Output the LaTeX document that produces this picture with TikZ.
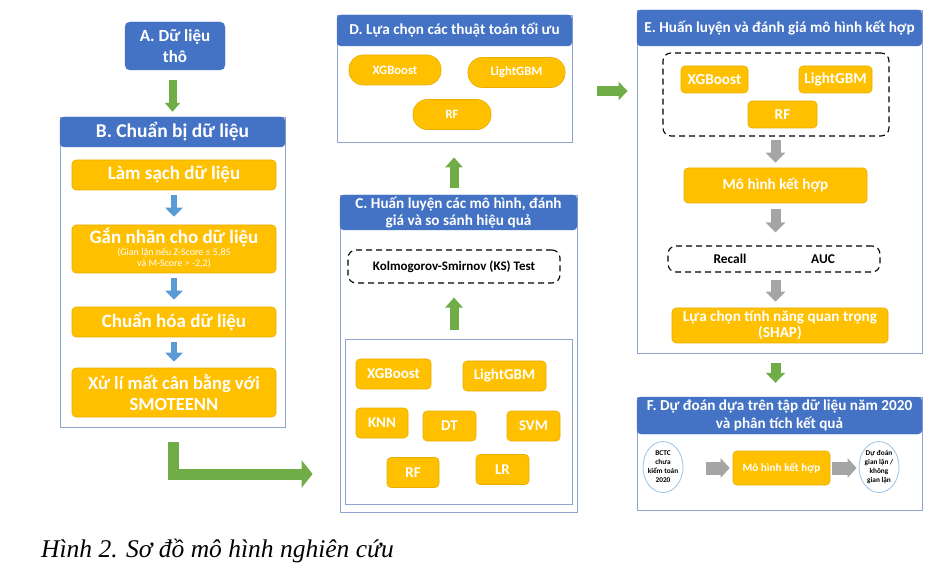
\documentclass[tikz,border=0pt]{standalone}
\usepackage{fontspec}
\setmainfont{Carlito}
\newfontfamily\captionfont{Liberation Serif}
\usetikzlibrary{arrows.meta,shapes.geometric,positioning}

\definecolor{headblue}{HTML}{4472C4}
\definecolor{boxorange}{HTML}{FFC000}
\definecolor{boxedge}{HTML}{E9AE00}
\definecolor{panelline}{HTML}{8FA5CF}
\definecolor{arrowgreen}{HTML}{70AD47}
\definecolor{arrowblue}{HTML}{5B9BD5}
\definecolor{arrowgrey}{HTML}{A5A5A5}
\definecolor{ovalline}{HTML}{9DC3E6}

\newcommand{\fsz}[2]{\fontsize{#1}{#2}\selectfont}

\tikzset{
	panel/.style={draw=panelline, line width=0.8pt, fill=white, rectangle, inner sep=0pt},
	header/.style={fill=headblue, draw=headblue, rounded corners=4pt, text=white, font=\bfseries, align=center, inner sep=0pt},
	orangebox/.style={fill=boxorange, draw=boxedge, line width=0.6pt, rounded corners=4pt, text=white, font=\bfseries, align=center, inner sep=0pt},
	pill/.style={orangebox, rounded corners=14pt},
	dashbox/.style={draw=black, line width=1.1pt, dash pattern=on 6pt off 4pt, rounded corners=8pt, inner sep=0pt},
	oval/.style={ellipse, draw=ovalline, line width=0.8pt, fill=white, inner sep=-2pt, align=center, font=\bfseries\fsz{7.3}{9}},
	fatarrow/.style n args={4}{draw=#1, line width=#2, line join=miter, -{Triangle[width=#3, length=#4]}},
}

\begin{document}
\begin{tikzpicture}[x=1pt, y=-1pt]
	\useasboundingbox (0,0) rectangle (948,569);

	%% A. raw data
	\node[header, rounded corners=5pt, minimum width=100pt, minimum height=48pt, font=\bfseries\fsz{17}{21}] (A) at (175,46) {A. Dữ liệu\\thô};

	%% B. data preparation
	\node[panel, minimum width=225pt, minimum height=310pt] (Bpanel) at (172.5,272) {};
	\node[header, minimum width=225pt, minimum height=30pt, font=\bfseries\fsz{19.5}{22}] (Bhead) at (172.5,132) {B. Chuẩn bị dữ liệu};
	\begin{scope}[every node/.style={orangebox, minimum width=204pt, font=\bfseries\fsz{19}{21}}]
		\node[minimum height=30pt] (B1) at (174,175) {Làm sạch dữ liệu};
		\node[minimum height=48pt] (B2) at (174,249) {Gắn nhãn cho dữ liệu\\[-3pt]
			{\fsz{10}{11.5}\mdseries\begin{tabular}{@{}c@{}}(Gian lận nếu Z-Score ≤ 5,85\\và M-Score > -2,2)\end{tabular}}};
		\node[minimum height=30pt] (B3) at (174,322) {Chuẩn hóa dữ liệu};
		\node[minimum height=49pt, font=\bfseries\fsz{18.5}{21}] (B4) at (174,392.5) {Xử lí mất cân bằng với\\SMOTEENN};
	\end{scope}

	%% C. training and comparison
	\node[panel, minimum width=237pt, minimum height=317pt] (Cpanel) at (458.5,353.5) {};
	\node[header, minimum width=237pt, minimum height=35pt, font=\bfseries\fsz{15.2}{17}] (Chead) at (458.5,212.5) {C. Huấn luyện các mô hình, đánh\\giá và so sánh hiệu quả};
	\node[dashbox, minimum width=212pt, minimum height=33pt, font=\bfseries\fsz{13}{14}] (KS) at (454,266.5) {Kolmogorov-Smirnov (KS) Test};
	\node[panel, minimum width=227pt, minimum height=165pt] (Cinner) at (458.5,421.5) {};
	\begin{scope}[every node/.style={orangebox, minimum height=30pt, font=\bfseries\fsz{15}{17}}]
		\foreach \n/\x/\y/\w/\t in {xgb/393.5/374/75/XGBoost, lgbm/504.5/376/83/LightGBM, knn/382/423/52/KNN,
			dt/449.5/426/53/DT, svm/533.5/426/53/SVM, rf/413/472.5/52/RF, lr/502.5/469.5/53/LR}{%
			\node[minimum width=\w pt] (C-\n) at (\x,\y) {\t};
		}
	\end{scope}

	%% D. choice of the best algorithms
	\node[panel, minimum width=235pt, minimum height=127pt] (Dpanel) at (454.5,78.5) {};
	\node[header, minimum width=235pt, minimum height=31pt, font=\bfseries\fsz{15.2}{17}] (Dhead) at (454.5,30.5) {D. Lựa chọn các thuật toán tối ưu};
	\begin{scope}[every node/.style={pill, minimum height=30pt, font=\bfseries\fsz{12.7}{14}}]
		\node[minimum width=92pt] (D-xgb) at (395,70) {XGBoost};
		\node[minimum width=97pt] (D-lgbm) at (516.5,72.5) {LightGBM};
		\node[minimum width=78pt] (D-rf) at (452,114.5) {RF};
	\end{scope}

	%% E. hybrid model
	\node[panel, minimum width=285pt, minimum height=343pt] (Epanel) at (779.5,181.5) {};
	\node[header, minimum width=285pt, minimum height=36pt, font=\bfseries\fsz{15.2}{17}] (Ehead) at (779.5,28) {E. Huấn luyện và đánh giá mô hình kết hợp};
	\node[dashbox, minimum width=226pt, minimum height=83pt] (Edash) at (776,94.5) {};
	\begin{scope}[every node/.style={orangebox, minimum height=27pt, font=\bfseries\fsz{15.2}{16.5}}]
		\node[minimum width=67pt] (E-xgb) at (714.5,79.5) {XGBoost};
		\node[minimum width=73pt] (E-lgbm) at (835.5,79.5) {LightGBM};
		\node[minimum width=69pt] (E-rf) at (782.5,114.5) {RF};
		\node[minimum width=183pt, minimum height=35pt] (Ecomb) at (775.5,185.5) {Mô hình kết hợp};
		\node[minimum width=216pt, minimum height=35pt] (Eshap) at (780,325.5) {Lựa chọn tính năng quan trọng\\(SHAP)};
	\end{scope}
	\node[dashbox, minimum width=212pt, minimum height=26pt] (Emetric) at (774,259) {};
	\node[font=\bfseries\fsz{13.4}{14}] (recall) at (730,259) {Recall};
	\node[font=\bfseries\fsz{13.4}{14}] (auc) at (823,259) {AUC};

	%% F. prediction on 2020 data
	\node[panel, minimum width=285pt, minimum height=113pt] (Fpanel) at (779.5,453.5) {};
	\node[header, minimum width=285pt, minimum height=37pt, font=\bfseries\fsz{15.2}{17.5}] (Fhead) at (779.5,415.5) {F. Dự đoán dựa trên tập dữ liệu năm 2020\\và phân tích kết quả};
	\node[oval, minimum width=40pt, minimum height=51pt] (Fin) at (663,467) {BCTC\\chưa\\kiểm toán\\2020};
	\node[orangebox, minimum width=97pt, minimum height=34pt, font=\bfseries\fsz{11.2}{13}] (Fcomb) at (781.5,468) {Mô hình kết hợp};
	\node[oval, minimum width=40pt, minimum height=51pt] (Fout) at (879,467) {Dự đoán\\gian lận /\\không\\gian lận};

	%% block arrows
	\coordinate (bend) at (173,474);
	\coordinate (de) at (0,91);
	\draw[fatarrow={arrowgreen}{8pt}{15pt}{9pt}, shorten <=10pt, shorten >=5pt] (A.south -| Bhead) -- (Bhead.north);
	\draw[fatarrow={arrowblue}{6pt}{17pt}{9pt}, shorten <=5pt, shorten >=8pt] (B1) -- (B2);
	\draw[fatarrow={arrowblue}{6pt}{17pt}{9pt}, shorten <=5pt, shorten >=7pt] (B2) -- (B3);
	\draw[fatarrow={arrowblue}{6pt}{17pt}{9pt}, shorten <=5pt, shorten >=6pt] (B3) -- (B4);
	\draw[fatarrow={arrowgreen}{11pt}{27pt}{11pt}, shorten <=15pt, shorten >=27pt] (Bpanel.south -| bend) -- (bend) -- (bend -| Cpanel.west);
	\draw[fatarrow={arrowgreen}{9pt}{17pt}{10pt}, shorten <=9pt, shorten >=14pt] (Cinner.north -| KS) -- (KS.south);
	\draw[fatarrow={arrowgreen}{9pt}{17pt}{10pt}, shorten <=7pt, shorten >=15pt] (Chead.north -| KS) -- (Dpanel.south -| KS);
	\draw[fatarrow={arrowgreen}{10pt}{18pt}{9pt}, shorten <=25pt, shorten >=9pt] (Dpanel.east |- de) -- (Epanel.west |- de);
	\draw[fatarrow={arrowgrey}{10pt}{19pt}{10pt}, shorten <=3pt, shorten >=5pt] (Edash.south -| Ecomb) -- (Ecomb.north);
	\draw[fatarrow={arrowgrey}{10pt}{19pt}{10pt}, shorten <=6pt, shorten >=13pt] (Ecomb.south) -- (Emetric.north -| Ecomb);
	\draw[fatarrow={arrowgrey}{10pt}{19pt}{10pt}, shorten <=7pt, shorten >=6pt] (Emetric.south -| Ecomb) -- (Eshap.north -| Ecomb);
	\draw[fatarrow={arrowgreen}{10pt}{19pt}{10pt}, shorten <=10pt, shorten >=14pt] (Epanel.south -| Ecomb) -- (Fhead.north -| Ecomb);
	\draw[fatarrow={arrowgrey}{13pt}{19pt}{9pt}, shorten <=23pt, shorten >=3pt] (Fin.east |- Fcomb) -- (Fcomb.west);
	\draw[fatarrow={arrowgrey}{13pt}{19pt}{9pt}, shorten <=2pt, shorten >=2pt] (Fcomb.east) -- (Fout.west |- Fcomb);

	%% caption
	\node[anchor=base west, inner sep=0pt, font=\captionfont\itshape\fsz{25.5}{28}] (caption) at (41,557) {Hình 2. Sơ đồ mô hình nghiên cứu};
\end{tikzpicture}
\end{document}
